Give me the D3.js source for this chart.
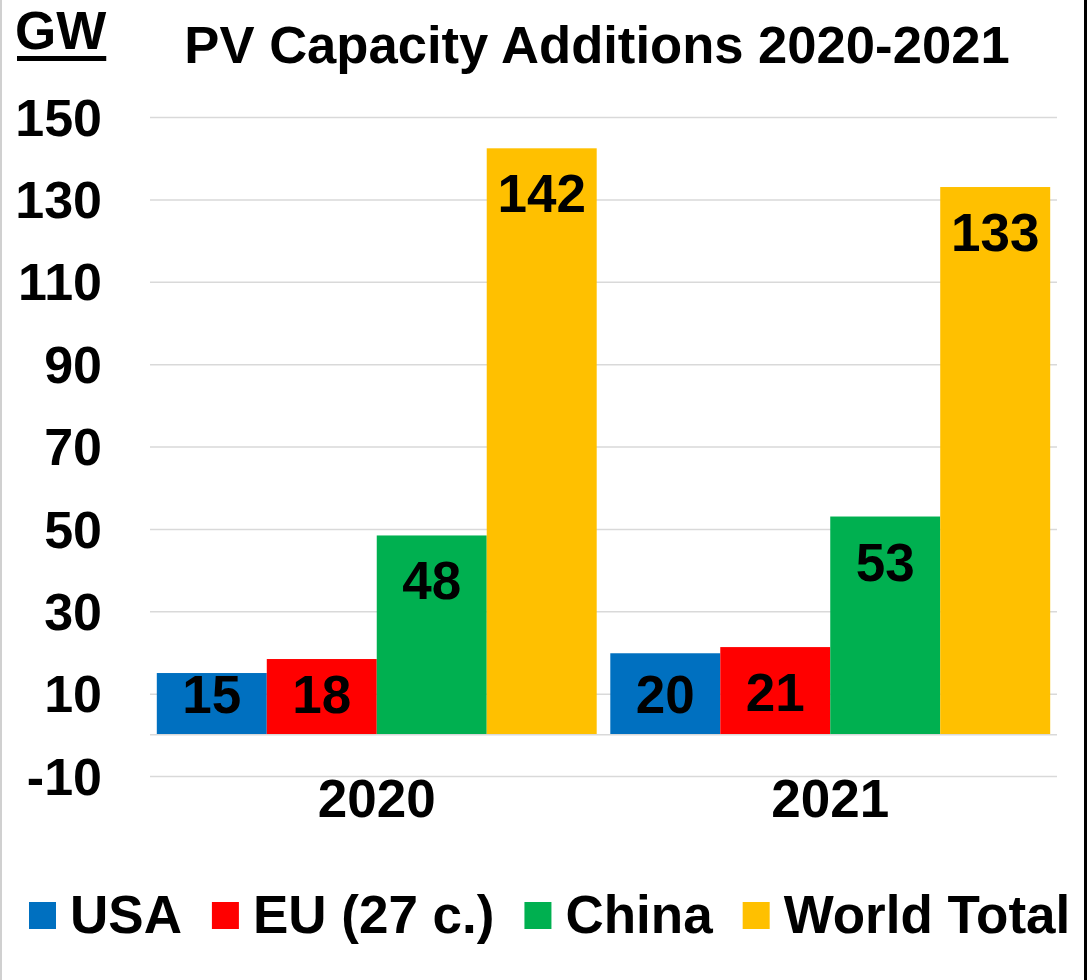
<!DOCTYPE html>
<html>
<head>
<meta charset="utf-8">
<script src="https://cdn.jsdelivr.net/npm/d3@7"></script>
<style>
  html, body { margin: 0; padding: 0; background: #fff; }
  svg text { font-family: "Liberation Sans", Arial, sans-serif; font-weight: bold; fill: #000; }
</style>
</head>
<body>
<div id="chart"></div>
<script>
// data ------------------------------------------------------------------------
const years = ['2020', '2021'];
const seriesNames = ['USA', 'EU (27 c.)', 'China', 'World Total'];
const seriesColors = ['#0070c0', '#ff0000', '#00b050', '#ffc000'];
const usaValues = [15.0, 19.8];
const euValues = [18.4, 21.3];
const chinaValues = [48.4, 53.0];
const worldValues = [142.4, 133.0];
const yTicks = [-10, 10, 30, 50, 70, 90, 110, 130, 150];

const seriesValues = [usaValues, euValues, chinaValues, worldValues];

// svg -------------------------------------------------------------------------
const width = 1089;
const height = 980;
const margin = { top: 117, bottom: 204, left: 150, right: 32 };

const svg = d3.select('#chart').append('svg')
  .attr('width', width)
  .attr('height', height);

svg.append('rect')
  .attr('width', width)
  .attr('height', height)
  .attr('fill', '#fff');

// scales ----------------------------------------------------------------------
const x0 = d3.scaleBand()
  .domain(years)
  .range([margin.left, width - margin.right])
  .paddingInner(0.03)
  .paddingOuter(0.015);

const x1 = d3.scaleBand()
  .domain(seriesNames)
  .range([0, x0.bandwidth()])
  .padding(0);

const y = d3.scaleLinear()
  .domain([-10, 150])
  .range([height - margin.bottom, margin.top]);

// gridlines -------------------------------------------------------------------
const grid = svg.append('g')
  .attr('transform', 'translate(' + margin.left + ',0)')
  .call(d3.axisLeft(y)
    .tickValues(yTicks)
    .tickSize(-(width - margin.left - margin.right))
    .tickFormat(''));
grid.select('.domain').remove();
grid.selectAll('line').attr('stroke', '#d9d9d9').attr('stroke-width', 1.5);

// y tick labels
svg.append('g')
  .selectAll('text')
  .data(yTicks)
  .enter()
  .append('text')
  .attr('x', 102)
  .attr('y', d => y(d))
  .attr('dy', '0.36em')
  .attr('text-anchor', 'end')
  .attr('font-size', '52px')
  .text(d => d);

// bars ------------------------------------------------------------------------
const rows = years.map((yr, i) => ({
  year: yr,
  values: seriesNames.map((s, j) => ({ series: s, value: seriesValues[j][i], color: seriesColors[j] }))
}));

const groups = svg.selectAll('.year-group')
  .data(rows)
  .enter()
  .append('g')
  .attr('class', 'year-group')
  .attr('transform', d => 'translate(' + x0(d.year) + ',0)');

groups.selectAll('rect')
  .data(d => d.values)
  .enter()
  .append('rect')
  .attr('x', d => x1(d.series))
  .attr('y', d => y(d.value))
  .attr('width', x1.bandwidth())
  .attr('height', d => y(0) - y(d.value))
  .attr('fill', d => d.color);

// zero line
svg.append('line')
  .attr('x1', margin.left)
  .attr('x2', width - margin.right)
  .attr('y1', y(0))
  .attr('y2', y(0))
  .attr('stroke', '#d9d9d9')
  .attr('stroke-width', 1.5);

// data labels (inside end, kept inside the bar)
groups.selectAll('.bar-label')
  .data(d => d.values)
  .enter()
  .append('text')
  .attr('class', 'bar-label')
  .attr('x', d => x1(d.series) + x1.bandwidth() / 2)
  .attr('y', d => Math.min(y(d.value) + 64, y(0) - 22))
  .attr('text-anchor', 'middle')
  .attr('font-size', '53px')
  .text(d => d3.format('.0f')(d.value));

// category labels
svg.append('g')
  .selectAll('text')
  .data(years)
  .enter()
  .append('text')
  .attr('x', d => x0(d) + x0.bandwidth() / 2)
  .attr('y', 817)
  .attr('text-anchor', 'middle')
  .attr('font-size', '53px')
  .text(d => d);

// title / unit ----------------------------------------------------------------
svg.append('text')
  .attr('x', 597)
  .attr('y', 63)
  .attr('text-anchor', 'middle')
  .attr('font-size', '52.6px')
  .text('PV Capacity Additions 2020-2021');

const gw = svg.append('text')
  .attr('x', 15)
  .attr('y', 49)
  .attr('font-size', '53px')
  .text('GW');
const gwLen = gw.node().getComputedTextLength();
svg.append('rect')
  .attr('x', 17)
  .attr('y', 56)
  .attr('width', gwLen - 2)
  .attr('height', 5)
  .attr('fill', '#000');

// legend ----------------------------------------------------------------------
const legend = svg.append('g').attr('class', 'legend');
let lx = 29;
seriesNames.forEach((name, i) => {
  legend.append('rect')
    .attr('x', lx)
    .attr('y', 902)
    .attr('width', 27)
    .attr('height', 27)
    .attr('fill', seriesColors[i]);
  const t = legend.append('text')
    .attr('x', lx + 41)
    .attr('y', 933)
    .attr('font-size', '53px')
    .text(name);
  lx += 41 + t.node().getComputedTextLength() + 30;
});

// frame -----------------------------------------------------------------------
svg.append('rect').attr('x', 0).attr('y', 0).attr('width', 2).attr('height', height).attr('fill', '#d0d0d0');
svg.append('rect').attr('x', 1084).attr('y', 0).attr('width', 3).attr('height', height).attr('fill', '#000');
</script>
</body>
</html>
